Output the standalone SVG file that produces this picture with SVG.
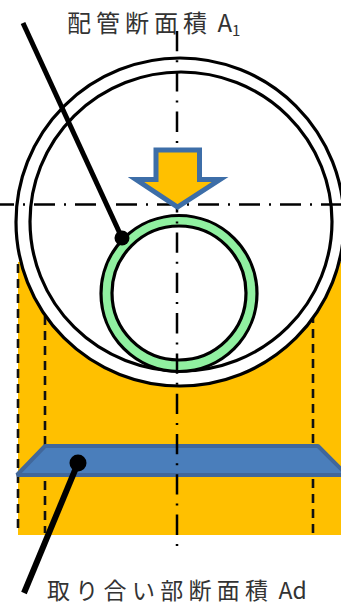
<svg xmlns="http://www.w3.org/2000/svg" width="341" height="606" viewBox="0 0 341 606">
<style>
.lbl{font-family:"Noto Sans CJK JP","Liberation Sans",sans-serif;font-size:23px;fill:#333;letter-spacing:5.300px}
.lat{letter-spacing:0}
.ring{stroke:#000;stroke-width:3.2}
.axis{fill:none;stroke:#000;stroke-width:2.5}
.dash{fill:none;stroke:#111;stroke-width:2.6;stroke-dasharray:9 6}
.lead{fill:none;stroke:#000;stroke-width:5}
</style>
<rect width="341" height="606" fill="#fff"/>
<g id="orange-area"><rect x="18" y="262" width="323" height="273" fill="#ffc000"/></g>
<g id="projection-lines">
<path class="dash" d="M18 264V533"/>
<path class="dash" d="M45 316V533"/>
<path class="dash" d="M313 314V533"/>
</g>
<g id="pipe-outer"><circle cx="180" cy="222" r="164" fill="#fff" class="ring"/></g>
<g id="pipe-inner"><ellipse cx="181" cy="221.500" rx="151" ry="149.500" fill="#fff" class="ring"/></g>
<g id="branch-ring"><circle cx="179" cy="293.500" r="72.500" fill="none" stroke="#90f0a0" stroke-width="11"/><circle cx="179" cy="293.500" r="78" fill="none" class="ring"/><ellipse cx="179" cy="293" rx="67" ry="67" fill="none" class="ring"/></g>
<g id="junction-area"><path d="M17 475L45 446H318L347 475Z" fill="#4a7ebb" stroke="#41679a" stroke-width="4" stroke-linejoin="bevel"/></g>
<g id="connectors">
<path class="axis" stroke-dasharray="20.300 9 2 9" d="M177 31V548"/>
<path class="axis" stroke-dasharray="21 9 2 9" stroke-dashoffset="7" d="M0 204.500H341"/>
<path class="lead" d="M23 23L122 238"/>
<circle cx="122" cy="238" r="7.500" fill="#000"/>
<path class="lead" style="stroke-width:6" d="M78 463L24 593"/>
<circle cx="78" cy="463" r="8.500" fill="#000"/>
</g>
<g id="arrow"><path d="M156 150H199.500V179.500H220L177.500 207L136 179.500H156Z" fill="#ffc000" stroke="#3d6ea8" stroke-width="5"/></g>
<g id="labels">
<text class="lbl" x="67" y="32" style="font-size:24px;letter-spacing:5px">配管断面積<tspan class="lat"> A</tspan><tspan class="lat" font-size="15" dy="4">1</tspan></text>
<text class="lbl" x="47" y="599">取り合い部断面積<tspan class="lat"> Ad</tspan></text>
</g>
</svg>
